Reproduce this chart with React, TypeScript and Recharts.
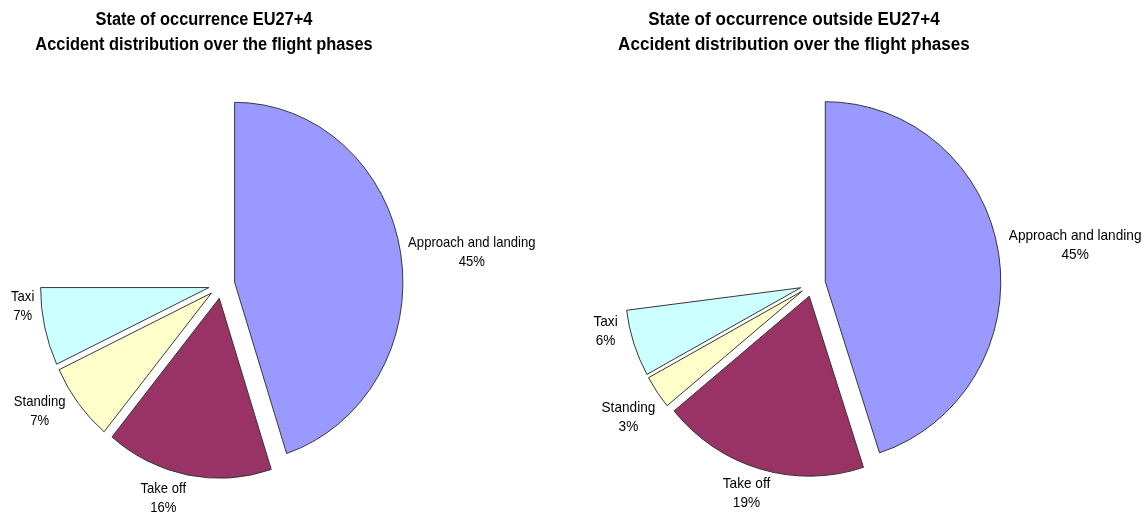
import React from 'react';
import { PieChart, Pie, Cell, Sector } from 'recharts';

// ---------- data ----------
const PHASES = ['Approach and landing', 'Take off', 'Standing', 'Taxi', 'Other phases (not shown)'];
const EU_SHARE = [45, 16, 7, 7, 25];
const OUTSIDE_SHARE = [45, 19, 3, 6, 27];
const EU_TITLE = ['State of occurrence EU27+4', 'Accident distribution over the flight phases'];
const OUTSIDE_TITLE = ['State of occurrence outside EU27+4', 'Accident distribution over the flight phases'];

// ---------- style ----------
const SLICE_COLORS: (string | null)[] = ['#9999FF', '#993366', '#FFFFCC', '#CCFFFF', null];
const FONT = '"Liberation Sans", Arial, sans-serif';
const LABEL_SIZE = 14;
const LINE_GAP = 19;
const RAD = Math.PI / 180;

let ctx: CanvasRenderingContext2D | null = null;
function textWidth(s: string): number {
  try {
    if (!ctx) ctx = document.createElement('canvas').getContext('2d');
    if (ctx) {
      ctx.font = `${LABEL_SIZE}px "Liberation Sans", Arial, sans-serif`;
      return ctx.measureText(s).width;
    }
  } catch (e) {}
  return s.length * LABEL_SIZE * 0.5;
}

function makeRenderer(explode: number, nudges: number[][]) {
  return (props: any) => {
    const { cx, cy, outerRadius, startAngle, endAngle, midAngle, index, percent } = props;
    const color = SLICE_COLORS[index];
    if (!color) return null;
    const name = props.name ?? props.payload?.name;
    const dirX = Math.cos(-midAngle * RAD);
    const dirY = Math.sin(-midAngle * RAD);
    const ex = cx + explode * dirX;
    const ey = cy + explode * dirY;
    const line1 = String(name);
    const line2 = `${Math.round(percent * 100)}%`;
    const halfW = Math.max(textWidth(line1), textWidth(line2)) / 2;
    const extent = halfW * Math.abs(dirX) + LINE_GAP * Math.abs(dirY);
    const dist = outerRadius + 8 + extent;
    const n = nudges[index] || [0, 0];
    const bx = ex + dist * dirX + n[0];
    const by = ey + dist * dirY + n[1];
    return (
      <g>
        <Sector
          cx={ex}
          cy={ey}
          innerRadius={0}
          outerRadius={outerRadius}
          startAngle={startAngle}
          endAngle={endAngle}
          fill={color}
          stroke="#333"
          strokeWidth={1}
        />
        <text textAnchor="middle" fontFamily={FONT} fontSize={LABEL_SIZE} fill="#000">
          <tspan x={bx} y={by - 4.5}>{line1}</tspan>
          <tspan x={bx} y={by + 14.5}>{line2}</tspan>
        </text>
      </g>
    );
  };
}

interface PanelProps {
  title: string[];
  values: number[];
  left: number;
  scaleX: number;
  cx: number;
  cy: number;
  titleCenter: number;
  explode: number;
  nudges: number[][];
}

function Panel({ title, values, left, scaleX, cx, cy, titleCenter, explode, nudges }: PanelProps) {
  const width = Math.round(573 / scaleX);
  const data = PHASES.map((p, i) => ({ name: p, value: values[i] }));
  return (
    <div
      style={{
        position: 'absolute',
        left,
        top: 0,
        width,
        height: 515,
        transform: `scaleX(${scaleX})`,
        transformOrigin: '0 0',
      }}
    >
      <div
        style={{
          position: 'absolute',
          left: titleCenter - 300,
          width: 600,
          top: 6.5,
          textAlign: 'center',
          fontFamily: FONT,
          fontWeight: 'bold',
          fontSize: 17.5,
          lineHeight: '25.7px',
          color: '#000',
          whiteSpace: 'nowrap',
        }}
      >
        <div>{title[0]}</div>
        <div>{title[1]}</div>
      </div>
      <div style={{ position: 'absolute', left: 0, top: 0 }}>
        <PieChart width={width} height={515} margin={{ top: 0, right: 0, bottom: 0, left: 0 }}>
          <Pie
            data={data}
            dataKey="value"
            nameKey="name"
            cx={cx}
            cy={cy}
            innerRadius={0}
            outerRadius={180}
            startAngle={90}
            endAngle={-270}
            isAnimationActive={false}
            labelLine={false}
            label={makeRenderer(explode, nudges)}
            stroke="none"
          >
            {data.map((d, i) => (
              <Cell key={d.name} fill="none" stroke="none" />
            ))}
          </Pie>
        </PieChart>
      </div>
    </div>
  );
}

export default function App() {
  return (
    <div
      style={{
        position: 'absolute',
        left: 0,
        top: 0,
        width: 1147,
        height: 515,
        background: '#fff',
        overflow: 'hidden',
      }}
    >
      <Panel
        title={EU_TITLE}
        values={EU_SHARE}
        left={0}
        scaleX={0.935}
        cx={237.1}
        cy={284.5}
        titleCenter={218.2}
        explode={14}
        nudges={[[-1.4, 9.5], [-20.3, -8.3], [-8.6, -18.4], [0.2, -26.2]]}
      />
      <Panel
        title={OUTSIDE_TITLE}
        values={OUTSIDE_SHARE}
        left={574}
        scaleX={0.975}
        cx={244.9}
        cy={283.7}
        titleCenter={225.6}
        explode={13}
        nudges={[[1.2, 3.1], [-4.9, -8.5], [4.9, 0.5], [-4.5, -21]]}
      />
    </div>
  );
}
